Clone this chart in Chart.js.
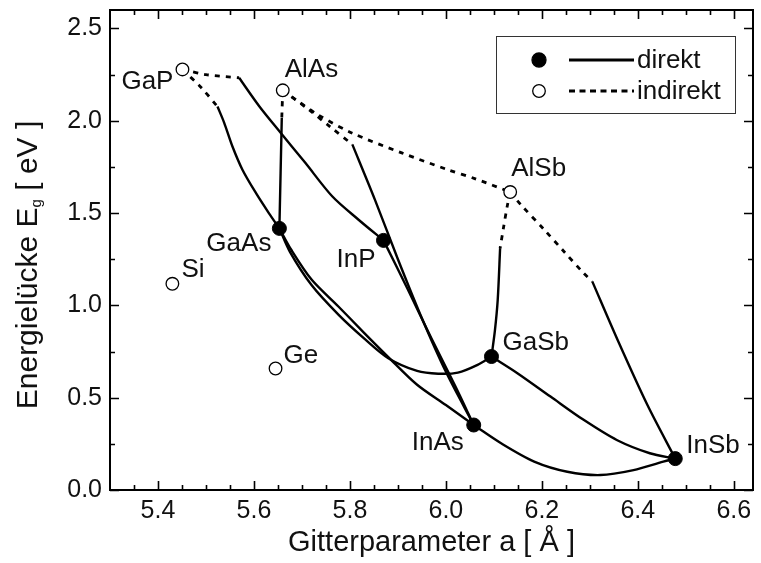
<!DOCTYPE html>
<html>
<head>
<meta charset="utf-8">
<script src="https://cdn.jsdelivr.net/npm/chart.js@4.4.0/dist/chart.umd.min.js"></script>
<style>
  html, body { margin: 0; padding: 0; background: #fff; }
  canvas { display: block; }
</style>
</head>
<body>
<canvas id="c" width="761" height="563"></canvas>
<script>
// Binary compounds and elements: lattice constant a [Å], band gap Eg [eV]
const compounds   = ['GaP', 'AlAs', 'AlSb', 'Si', 'Ge', 'GaAs', 'InP', 'GaSb', 'InAs', 'InSb'];
const latticeA    = [5.451, 5.660, 6.134, 5.430, 5.645, 5.653, 5.870, 6.095, 6.058, 6.478];
const bandGap     = [2.278, 2.165, 1.614, 1.117, 0.658, 1.417, 1.352, 0.723, 0.352, 0.170];
const gapType     = ['indirekt', 'indirekt', 'indirekt', 'indirekt', 'indirekt',
                     'direkt', 'direkt', 'direkt', 'direkt', 'direkt'];

// Axis ticks
const xTicks = [5.4, 5.6, 5.8, 6.0, 6.2, 6.4, 6.6];
const yTicks = [0.0, 0.5, 1.0, 1.5, 2.0, 2.5];

// Ternary alloys (a, Eg); *_ind = indirect branch, *_dir = direct branch
const gaAsP_ind_a  = [5.451, 5.490, 5.524];
const gaAsP_ind_e  = [2.278, 2.180, 2.077];
const gaAsP_dir_a  = [5.524, 5.538, 5.555, 5.576, 5.604, 5.631, 5.653];
const gaAsP_dir_e  = [2.077, 1.989, 1.862, 1.735, 1.609, 1.500, 1.417];

const gaInP_ind_a  = [5.451, 5.500, 5.569];
const gaInP_ind_e  = [2.278, 2.250, 2.233];
const gaInP_dir_a  = [5.569, 5.611, 5.656, 5.707, 5.763, 5.818, 5.870];
const gaInP_dir_e  = [2.233, 2.079, 1.934, 1.772, 1.591, 1.464, 1.352];

const alGaAs_ind_a = [5.660, 5.658];
const alGaAs_ind_e = [2.165, 2.016];
const alGaAs_dir_a = [5.658, 5.653];
const alGaAs_dir_e = [2.016, 1.417];

const alInAs_ind_a = [5.660, 5.714, 5.759, 5.805];
const alInAs_ind_e = [2.165, 2.061, 1.967, 1.872];
const alInAs_dir_a = [5.805, 5.852, 5.900, 5.950, 6.000, 6.058];
const alInAs_dir_e = [1.872, 1.573, 1.250, 0.930, 0.640, 0.352];

const alAsSb_a     = [5.660, 5.687, 5.735, 5.804, 5.908, 6.004, 6.060, 6.134];
const alAsSb_e     = [2.165, 2.115, 2.030, 1.934, 1.826, 1.735, 1.687, 1.614];

const inAsP_a      = [5.870, 5.920, 5.970, 6.020, 6.058];
const inAsP_e      = [1.352, 1.090, 0.820, 0.560, 0.352];

const gaInAs_a     = [5.653, 5.678, 5.720, 5.776, 5.830, 5.880, 5.940, 6.000, 6.058];
const gaInAs_e     = [1.417, 1.300, 1.140, 0.994, 0.850, 0.720, 0.570, 0.460, 0.352];

const gaAsSb_a     = [5.653, 5.675, 5.720, 5.776, 5.830, 5.880, 5.940, 5.984, 6.025, 6.066, 6.095];
const gaAsSb_e     = [1.417, 1.290, 1.110, 0.950, 0.820, 0.714, 0.645, 0.630, 0.636, 0.678, 0.723];

const alGaSb_ind_a = [6.134, 6.128, 6.120, 6.113];
const alGaSb_ind_e = [1.614, 1.540, 1.420, 1.310];
const alGaSb_dir_a = [6.113, 6.108, 6.102, 6.095];
const alGaSb_dir_e = [1.310, 1.030, 0.860, 0.723];

const alInSb_ind_a = [6.134, 6.156, 6.205, 6.246, 6.287, 6.305];
const alInSb_ind_e = [1.614, 1.546, 1.410, 1.292, 1.175, 1.130];
const alInSb_dir_a = [6.305, 6.360, 6.420, 6.478];
const alInSb_dir_e = [1.130, 0.800, 0.460, 0.170];

const gaInSb_a     = [6.095, 6.149, 6.218, 6.287, 6.356, 6.425, 6.478];
const gaInSb_e     = [0.723, 0.633, 0.506, 0.380, 0.271, 0.199, 0.170];

const inAsSb_a     = [6.058, 6.115, 6.184, 6.253, 6.322, 6.391, 6.453, 6.478];
const inAsSb_e     = [0.352, 0.253, 0.154, 0.099, 0.081, 0.108, 0.154, 0.170];

const FONT = "'Liberation Sans', Arial, Helvetica, sans-serif";
const DASH = [5, 6];

const pts = (a, e) => a.map((v, i) => ({ x: v, y: e[i] }));

function curve(a, e, dashed) {
  return {
    data: pts(a, e),
    showLine: true,
    pointRadius: 0,
    pointHoverRadius: 0,
    borderColor: '#000',
    borderWidth: dashed ? 2.8 : 2.4,
    borderDash: dashed ? DASH : [],
    borderCapStyle: 'butt',
    tension: 0.3,
    fill: false,
    order: 2
  };
}

const lineSets = [
  curve(gaAsP_ind_a, gaAsP_ind_e, true),  curve(gaAsP_dir_a, gaAsP_dir_e, false),
  curve(gaInP_ind_a, gaInP_ind_e, true),  curve(gaInP_dir_a, gaInP_dir_e, false),
  curve(alGaAs_ind_a, alGaAs_ind_e, true), curve(alGaAs_dir_a, alGaAs_dir_e, false),
  curve(alInAs_ind_a, alInAs_ind_e, true), curve(alInAs_dir_a, alInAs_dir_e, false),
  curve(alAsSb_a, alAsSb_e, true),
  curve(inAsP_a, inAsP_e, false),
  curve(gaInAs_a, gaInAs_e, false),
  curve(gaAsSb_a, gaAsSb_e, false),
  curve(alGaSb_ind_a, alGaSb_ind_e, true), curve(alGaSb_dir_a, alGaSb_dir_e, false),
  curve(alInSb_ind_a, alInSb_ind_e, true), curve(alInSb_dir_a, alInSb_dir_e, false),
  curve(gaInSb_a, gaInSb_e, false),
  curve(inAsSb_a, inAsSb_e, false)
];

const idxOf = t => compounds.map((c, i) => i).filter(i => gapType[i] === t);
const directIdx = idxOf('direkt');
const indirectIdx = idxOf('indirekt');

const markerSets = [
  {
    label: 'direkt',
    data: directIdx.map(i => ({ x: latticeA[i], y: bandGap[i], name: compounds[i] })),
    showLine: false,
    pointRadius: 7,
    pointBackgroundColor: '#000',
    pointBorderColor: '#000',
    pointBorderWidth: 1,
    order: 0
  },
  {
    label: 'indirekt',
    data: indirectIdx.map(i => ({ x: latticeA[i], y: bandGap[i], name: compounds[i] })),
    showLine: false,
    pointRadius: 6.3,
    pointBackgroundColor: '#fff',
    pointBorderColor: '#000',
    pointBorderWidth: 1.3,
    order: 0
  }
];

// Where each compound name sits relative to its marker
const nameOffset = {
  GaP:  [-9, 20, 'right'],
  AlAs: [2, -13, 'left'],
  GaAs: [-8, 23, 'right'],
  InP:  [-8, 27, 'right'],
  Si:   [9, -7, 'left'],
  Ge:   [8, -6, 'left'],
  InAs: [-10, 25, 'right'],
  GaSb: [11, -7, 'left'],
  InSb: [11, -6, 'left'],
  AlSb: [1, -16, 'left']
};

const nameLabels = {
  id: 'nameLabels',
  afterDatasetsDraw(chart) {
    const { ctx, scales: { x, y } } = chart;
    ctx.save();
    ctx.font = '26px ' + FONT;
    ctx.fillStyle = '#111';
    ctx.textBaseline = 'alphabetic';
    compounds.forEach((name, i) => {
      const [dx, dy, al] = nameOffset[name];
      ctx.textAlign = al;
      ctx.fillText(name, x.getPixelForValue(latticeA[i]) + dx, y.getPixelForValue(bandGap[i]) + dy);
    });
    ctx.restore();
  }
};

// Frame with inward ticks on all four sides
const frame = {
  id: 'frame',
  afterDraw(chart) {
    const { ctx, chartArea: a, scales: { x, y } } = chart;
    ctx.save();
    ctx.strokeStyle = '#000';
    ctx.lineWidth = 1.6;
    ctx.beginPath();
    for (let k = 0; k <= 25; k++) {
      const v = 5.35 + k * 0.05;
      const px = Math.round(x.getPixelForValue(v)) + 0.5;
      const major = (k - 1) % 4 === 0;
      const len = major ? 9 : 5;
      ctx.moveTo(px, a.bottom); ctx.lineTo(px, a.bottom - len);
      ctx.moveTo(px, a.top); ctx.lineTo(px, a.top + len);
    }
    for (let k = 0; k <= 10; k++) {
      const v = k * 0.25;
      const py = Math.round(y.getPixelForValue(v)) + 0.5;
      const len = k % 2 === 0 ? 9 : 5;
      ctx.moveTo(a.left, py); ctx.lineTo(a.left + len, py);
      ctx.moveTo(a.right, py); ctx.lineTo(a.right - len, py);
    }
    ctx.stroke();
    ctx.lineWidth = 2;
    ctx.strokeRect(a.left, a.top, a.right - a.left, a.bottom - a.top);
    ctx.restore();
  }
};

// Y axis title with subscript
const yTitle = {
  id: 'yTitle',
  afterDraw(chart) {
    const { ctx, chartArea: a } = chart;
    const parts = [['Energielücke E', 30, 0], ['g', 15, 4], [' [ eV ]', 30, 0]];
    ctx.save();
    ctx.translate(37, (a.top + a.bottom) / 2 + 15);
    ctx.rotate(-Math.PI / 2);
    ctx.fillStyle = '#111';
    ctx.textBaseline = 'alphabetic';
    ctx.textAlign = 'left';
    let w = 0;
    parts.forEach(([t, s]) => { ctx.font = s + 'px ' + FONT; w += ctx.measureText(t).width; });
    let u = -w / 2;
    parts.forEach(([t, s, dv]) => {
      ctx.font = s + 'px ' + FONT;
      ctx.fillText(t, u, dv);
      u += ctx.measureText(t).width;
    });
    ctx.restore();
  }
};

// Legend box: marker + line style + text
const legendBox = {
  id: 'legendBox',
  afterDraw(chart) {
    const { ctx, chartArea: a } = chart;
    const L = a.right - 257, T = a.top + 26, W = 239, H = 77;
    ctx.save();
    ctx.strokeStyle = '#333';
    ctx.lineWidth = 1;
    ctx.strokeRect(L + 0.5, T + 0.5, W, H);
    const rows = [
      { y: T + 24, fill: '#000', dash: [], lw: 2.8, text: 'direkt', r: 7 },
      { y: T + 55, fill: '#fff', dash: [6, 4.5], lw: 2.8, text: 'indirekt', r: 6.3 }
    ];
    rows.forEach(row => {
      ctx.beginPath();
      ctx.arc(L + 43, row.y, row.r, 0, Math.PI * 2);
      ctx.fillStyle = row.fill;
      ctx.fill();
      ctx.lineWidth = 1.3;
      ctx.strokeStyle = '#000';
      ctx.setLineDash([]);
      ctx.stroke();
      ctx.beginPath();
      ctx.setLineDash(row.dash);
      ctx.lineWidth = row.lw;
      ctx.moveTo(L + 73, row.y);
      ctx.lineTo(L + 138, row.y);
      ctx.stroke();
      ctx.setLineDash([]);
      ctx.fillStyle = '#111';
      ctx.font = '26px ' + FONT;
      ctx.textAlign = 'left';
      ctx.textBaseline = 'middle';
      ctx.fillText(row.text, L + 141, row.y + 1);
    });
    ctx.restore();
  }
};

new Chart(document.getElementById('c'), {
  type: 'scatter',
  data: { datasets: [...markerSets, ...lineSets] },
  options: {
    responsive: false,
    animation: false,
    devicePixelRatio: 1,
    layout: { padding: { top: 10, right: 5, left: 0, bottom: 0 } },
    plugins: { legend: { display: false }, tooltip: { enabled: false } },
    scales: {
      x: {
        type: 'linear',
        min: 5.3,
        max: 6.64,
        afterBuildTicks: s => { s.ticks = xTicks.map(v => ({ value: v })); },
        afterFit: s => { s.height = 73; s.paddingLeft = 0; s.paddingRight = 0; },
        grid: { display: false, drawTicks: false },
        border: { display: false },
        ticks: {
          padding: 6,
          color: '#111',
          font: { size: 25, family: FONT },
          callback: v => Number(v).toFixed(1)
        },
        title: {
          display: true,
          text: 'Gitterparameter a [ Å ]',
          color: '#111',
          font: { size: 29, family: FONT },
          padding: { top: 0, bottom: 3 }
        }
      },
      y: {
        type: 'linear',
        min: 0,
        max: 2.6,
        afterBuildTicks: s => { s.ticks = yTicks.map(v => ({ value: v })); },
        afterFit: s => { s.width = 110; s.paddingTop = 0; s.paddingBottom = 0; },
        grid: { display: false, drawTicks: false },
        border: { display: false },
        ticks: {
          padding: 8,
          color: '#111',
          font: { size: 25, family: FONT },
          callback: v => Number(v).toFixed(1)
        }
      }
    }
  },
  plugins: [nameLabels, frame, yTitle, legendBox]
});
</script>
</body>
</html>
